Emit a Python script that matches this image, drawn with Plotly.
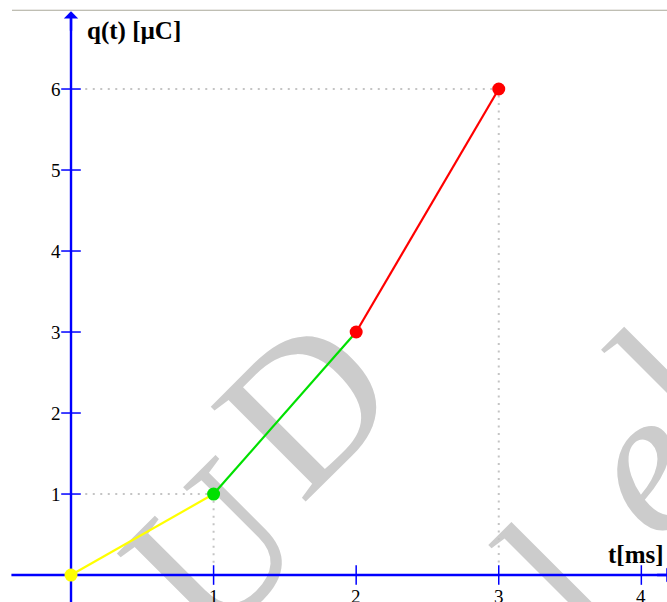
import plotly.graph_objects as go

# Charge q(t) in µC at the breakpoints t in ms
t_pts = [0, 1, 2, 3]
q_pts = [0, 1, 3, 6]
seg_colors = ["#ffff00", "#00e000", "#ff0000"]
pt_colors = ["#ffff00", "#00e000", "#ff0000", "#ff0000"]

# Points that get dotted guide lines to both axes
guide_t = [1, 3]
guide_q = [1, 6]

# Axis ticks
x_ticks = [1, 2, 3, 4]
y_ticks = [1, 2, 3, 4, 5, 6]

X_RANGE = [-0.498, 4.18]
Y_RANGE = [-0.333, 7.099]

AXIS_BLUE = "#0000ff"
SERIF = "Liberation Serif, Times New Roman, serif"

fig = go.Figure()

# faint watermark lettering, kept underneath everything else
wm = [("U", 0.88, 0.50, "normal"), ("D", 1.53, 2.30, "normal"),
      ("l", 3.30, 0.14, "normal"), ("e", 3.88, 1.55, "italic"),
      ("l", 4.09, 2.55, "normal")]
for ch, cx, cy, st in wm:
    fig.add_shape(type="rect", xref="x", yref="y",
                  x0=cx - 0.3, x1=cx + 0.3, y0=cy - 0.3, y1=cy + 0.3,
                  line=dict(width=0), fillcolor="rgba(0,0,0,0)", layer="below",
                  label=dict(text=ch, textangle=-45, textposition="middle center",
                             font=dict(family=SERIF, size=205, color="#cccccc",
                                       style=st)))

# axis lines (the arrow heads are added as annotations)
fig.add_trace(go.Scatter(x=[X_RANGE[0] + 0.08, 4.2], y=[0, 0], mode="lines",
                         line=dict(color=AXIS_BLUE, width=2.4), hoverinfo="skip"))
fig.add_trace(go.Scatter(x=[0, 0], y=[Y_RANGE[0], 6.9], mode="lines",
                         line=dict(color=AXIS_BLUE, width=2.4), hoverinfo="skip"))

# tick marks crossing the axes
fig.add_trace(go.Scatter(
    x=x_ticks, y=[0] * len(x_ticks), mode="markers",
    marker=dict(symbol="line-ns", size=14, line=dict(color=AXIS_BLUE, width=1.5)),
    hoverinfo="skip"))
fig.add_trace(go.Scatter(
    x=[0] * len(y_ticks), y=y_ticks, mode="markers",
    marker=dict(symbol="line-ew", size=14, line=dict(color=AXIS_BLUE, width=1.5)),
    hoverinfo="skip"))

# dotted guides from the marked points to the axes
for gt, gq in zip(guide_t, guide_q):
    fig.add_trace(go.Scatter(
        x=[0.1, gt, gt], y=[gq, gq, 0.09], mode="lines",
        line=dict(color="#c4c4c4", width=2, dash="2px,5.5px"),
        hoverinfo="skip"))

# coloured segments
for i, c in enumerate(seg_colors):
    fig.add_trace(go.Scatter(
        x=t_pts[i:i + 2], y=q_pts[i:i + 2], mode="lines",
        line=dict(color=c, width=2.2), hoverinfo="skip"))

# points
fig.add_trace(go.Scatter(
    x=t_pts, y=q_pts, mode="markers",
    marker=dict(color=pt_colors, size=13, line=dict(width=0)),
    hoverinfo="skip"))

annotations = []
# arrow heads at the axis ends
annotations.append(dict(x=0, y=6.96, ax=0, ay=6.7, xref="x", yref="y",
                        axref="x", ayref="y", text="", showarrow=True,
                        arrowhead=1, arrowsize=1, arrowwidth=2.4,
                        arrowcolor=AXIS_BLUE, standoff=0, startstandoff=0))
annotations.append(dict(x=4.225, y=0, ax=4.1, ay=0, xref="x", yref="y",
                        axref="x", ayref="y", text="", showarrow=True,
                        arrowhead=1, arrowsize=1, arrowwidth=2.4,
                        arrowcolor=AXIS_BLUE, standoff=0, startstandoff=0))

# tick labels
for xv in x_ticks:
    annotations.append(dict(x=xv, y=0, xref="x", yref="y", text=str(xv),
                            showarrow=False, yanchor="top", yshift=-9,
                            font=dict(family=SERIF, size=19, color="black")))
for yv in y_ticks:
    annotations.append(dict(x=0, y=yv, xref="x", yref="y", text=str(yv),
                            showarrow=False, xanchor="right", xshift=-8,
                            font=dict(family=SERIF, size=19, color="black")))

# axis titles
annotations.append(dict(x=0, y=6.72, xref="x", yref="y", text="<b>q(t) [µC]</b>",
                        showarrow=False, xanchor="left", xshift=14,
                        font=dict(family=SERIF, size=25, color="black")))
annotations.append(dict(x=4.18, y=0, xref="x", yref="y", text="<b>t[ms]</b>",
                        showarrow=False, xanchor="right", yanchor="bottom",
                        xshift=-1, yshift=5,
                        font=dict(family=SERIF, size=25, color="black")))

fig.update_layout(annotations=annotations)

# thin rule along the top
fig.add_shape(type="line", xref="paper", yref="paper", x0=0.018, x1=1,
              y0=0.983, y1=0.983, line=dict(color="#aaa89a", width=1.2))

fig.update_layout(
    width=667, height=602,
    margin=dict(l=0, r=0, t=0, b=0),
    paper_bgcolor="white", plot_bgcolor="white",
    showlegend=False,
    xaxis=dict(range=X_RANGE, visible=False, fixedrange=True),
    yaxis=dict(range=Y_RANGE, visible=False, fixedrange=True),
)

fig.write_html("out.html")
